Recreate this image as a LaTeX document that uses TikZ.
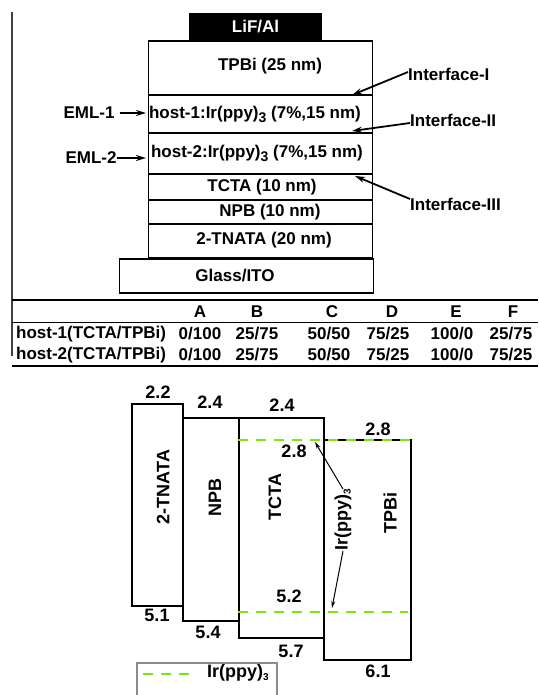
\documentclass[tikz,border=0pt]{standalone}
\usepackage{fontspec}
\setmainfont{Liberation Sans}
\usetikzlibrary{arrows.meta}
\definecolor{irgreen}{RGB}{120,232,20}
\newcommand{\irppy}[2]{Ir(ppy)\raisebox{-#2}{\fontsize{#1}{#1}\selectfont 3}}

\begin{document}
\begin{tikzpicture}[x=1pt,y=-1pt,
    every node/.style={font=\fontsize{17}{20}\selectfont\bfseries,inner sep=0pt},
    layer/.style={draw,line width=1.8pt,minimum width=224pt},
    level/.style={draw,line width=1.8pt},
    num/.style={font=\fontsize{18}{21}\selectfont\bfseries},
    bigarrow/.style={line width=1.8pt,-{Stealth[length=10pt,width=6pt]}},
    thinarrow/.style={line width=1pt,-{Stealth[length=7pt,width=4pt]}},
    irline/.style={irgreen,line width=2pt,dash pattern=on 10pt off 8pt}]
  \clip (0,0) rectangle (538,695);

  % Device stack
  \node[layer,fill=black,text=white,minimum width=132pt,minimum height=26pt] (lif) at (255.5,26.5) {LiF/Al};
  \node[layer,minimum height=54pt,label={[xshift=9.5pt,yshift=2pt]center:TPBi (25 nm)}] (tpbi) at (260.5,68) {};
  \node[layer,minimum height=38pt,label={[xshift=-5.5pt]center:{host-1:\irppy{14}{4pt} (7\%,15 nm)}}] (eml1) at (260.5,114) {};
  \node[layer,minimum height=41pt,label={[xshift=-3.5pt]center:{host-2:\irppy{14}{4pt} (7\%,15 nm)}}] (eml2) at (260.5,153.5) {};
  \node[layer,minimum height=26pt,label={[xshift=1.5pt]center:TCTA (10 nm)}] (tcta) at (260.5,187) {};
  \node[layer,minimum height=24pt,label={[xshift=9.5pt]center:NPB (10 nm)}] (npb) at (260.5,212) {};
  \node[layer,minimum height=34pt,label={[xshift=3.5pt,yshift=1pt]center:2-TNATA (20 nm)}] (tnata) at (260.5,241) {};
  \node[layer,minimum width=254pt,minimum height=34pt,label={[xshift=-11.5pt]center:Glass/ITO}] (glass) at (246.5,276) {};

  % Layer labels and interfaces
  \node (eml1-t) at (89,113) {EML-1};
  \node (eml2-t) at (91,158) {EML-2};
  \coordinate (eml1-tip) at (146,113);
  \coordinate (eml2-tip) at (146,158);
  \draw[bigarrow] ([xshift=5pt]eml1-t.east) -- (eml1-tip);
  \draw[bigarrow] (eml2-t.east) -- (eml2-tip);
  \node[anchor=west] (if1) at (408,74) {Interface-I};
  \node[anchor=west] (if2) at (410,120) {Interface-II};
  \node[anchor=west] (if3) at (410,204) {Interface-III};
  \coordinate (i1) at (352,95);
  \coordinate (i2) at (352,131);
  \coordinate (i3) at (355,176);
  \draw[bigarrow] ([yshift=2pt]if1.west) -- (i1);
  \draw[bigarrow] ([yshift=-3pt]if2.west) -- (i2);
  \draw[bigarrow] ([yshift=5pt]if3.west) -- (i3);

  % Table
  \draw[line width=1.3pt,black!75] (12,12) -- (12,356);
  \draw[line width=2pt] (12,300) -- (538,300);
  \draw[line width=1pt] (12,322) -- (538,322);
  \draw[line width=2pt] (12,366) -- (538,366);
  \node (colA) at (200,312) {A};
  \node (colB) at (257,312) {B};
  \node (colC) at (332,312) {C};
  \node (colD) at (392,312) {D};
  \node (colE) at (456,312) {E};
  \node (colF) at (513,312) {F};
  \node[anchor=west] (row1) at (16,334) {host-1(TCTA/TPBi)};
  \node[anchor=west] (row2) at (16,355) {host-2(TCTA/TPBi)};
  \node (a1) at (200,334) {0/100};
  \node (b1) at (257,334) {25/75};
  \node (c1) at (329,334) {50/50};
  \node (d1) at (388,334) {75/25};
  \node (e1) at (452,334) {100/0};
  \node (f1) at (511,334) {25/75};
  \node (a2) at (200,355) {0/100};
  \node (b2) at (257,355) {25/75};
  \node (c2) at (329,355) {50/50};
  \node (d2) at (388,355) {75/25};
  \node (e2) at (452,355) {100/0};
  \node (f2) at (511,355) {75/25};

  % Energy levels
  \node[level,minimum width=51pt,minimum height=202pt] (lv-tnata) at (157.5,505) {};
  \node[level,minimum width=56pt,minimum height=203pt] (lv-npb) at (211,519.5) {};
  \node[level,minimum width=85pt,minimum height=220pt] (lv-tcta) at (281.5,528) {};
  \node[level,minimum width=87pt,minimum height=220pt] (lv-tpbi) at (367.5,550) {};
  \node[num,rotate=90] (n-tnata) at (163,487) {2-TNATA};
  \node[num,rotate=90] (n-npb) at (215,497) {NPB};
  \node[num,rotate=90] (n-tcta) at (275,497) {TCTA};
  \node[num,rotate=90] (n-tpbi) at (390,513) {TPBi};
  \node[num] (e22) at (158,392) {2.2};
  \node[num] (e24a) at (210,402) {2.4};
  \node[num] (e24b) at (282,405) {2.4};
  \node[num] (e28a) at (378,429) {2.8};
  \node[num] (e28b) at (294,451) {2.8};
  \node[num] (e52) at (289,596) {5.2};
  \node[num] (e51) at (157,615) {5.1};
  \node[num] (e54) at (208,632) {5.4};
  \node[num] (e57) at (291,651) {5.7};
  \node[num] (e61) at (378,671) {6.1};

  % Ir(ppy)3 levels
  \coordinate (g1l) at (238,440);
  \coordinate (g1r) at (411,440);
  \coordinate (g2l) at (238,612);
  \coordinate (g2r) at (408,612);
  \draw[irline] (g1l) -- (g1r);
  \draw[irline] (g2l) -- (g2r);
  \node[num,rotate=90] (ir-t) at (343,520) {\irppy{10}{3pt}};
  \coordinate (ir-lumo) at (315,442);
  \coordinate (ir-homo) at (332,608);
  \draw[thinarrow] (ir-t.east) -- (ir-lumo);
  \draw[thinarrow] (ir-t.west) -- (ir-homo);

  % Legend
  \node[draw=black!45,line width=1.5pt,minimum width=140pt,minimum height=44pt] (legend) at (207,685) {};
  \coordinate (lg-a) at (143,674);
  \coordinate (lg-b) at (195,674);
  \draw[irline] (lg-a) -- (lg-b);
  \node[num] (lg-t) at (238,673) {\irppy{10}{3pt}};
\end{tikzpicture}
\end{document}
